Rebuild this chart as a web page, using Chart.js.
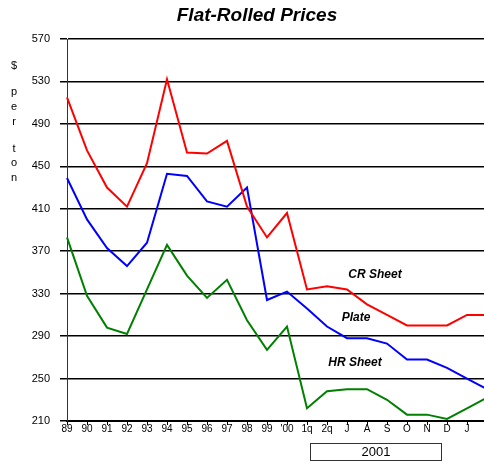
<!DOCTYPE html>
<html>
<head>
<meta charset="utf-8">
<script src="https://cdn.jsdelivr.net/npm/chart.js@4/dist/chart.umd.min.js"></script>
<style>
  html, body { margin: 0; padding: 0; background: #fff; overflow: hidden; }
  #wrap { position: relative; width: 500px; height: 462px; }
</style>
</head>
<body>
<div id="wrap"><canvas id="c" width="500" height="462"></canvas></div>
<script>
// Period labels: annual averages, then 2001 quarters and months
const periods = ['89','90','91','92','93','94','95','96','97','98','99',"'00",'1q','2q','J','A','S','O','N','D','J','F'];

// Prices, $ per ton
const crSheet = [515,465,430,412,453,532,463,462,474,412,383,406,334,337,334,320,310,300,300,300,310,310];
const plate   = [439,400,373,356,378,443,441,417,412,430,324,332,316,299,288,288,283,268,268,260,250,240];
const hrSheet = [383,328,298,292,334,376,347,326,343,305,277,299,222,238,240,240,230,216,216,212,222,232];

const yMin = 210, yMax = 570, yStep = 40;

// Series captions placed in data space: [text, x index, y value]
const captions = [
  ['CR Sheet', 15.4, 348],
  ['Plate', 14.45, 307],
  ['HR Sheet', 14.4, 265]
];

const yTitleLetters = [['$', 66], ['p', 92], ['e', 107], ['r', 122], ['t', 149], ['o', 163], ['n', 178]];

const FONT = '"Liberation Sans", Arial, sans-serif';

const overlay = {
  id: 'overlay',
  afterDraw(chart) {
    const ctx = chart.ctx;
    const xs = chart.scales.x, ys = chart.scales.y;
    ctx.save();
    ctx.fillStyle = '#000';
    ctx.textAlign = 'center';
    ctx.textBaseline = 'middle';

    // Title
    ctx.font = 'italic bold 19px ' + FONT;
    ctx.fillText('Flat-Rolled Prices', 257, 16);

    // Stacked y-axis caption
    ctx.font = '11px ' + FONT;
    yTitleLetters.forEach(([ch, y]) => ctx.fillText(ch, 14, y));

    // Series captions
    ctx.font = 'italic bold 12px ' + FONT;
    captions.forEach(([t, xi, v]) => {
      ctx.fillText(t, xs.getPixelForValue(xi), ys.getPixelForValue(v));
    });

    // Year box under the 2001 periods
    ctx.strokeStyle = '#333';
    ctx.lineWidth = 1;
    ctx.strokeRect(310.5, 443.5, 131, 17);
    ctx.font = '13px ' + FONT;
    ctx.fillText('2001', 376, 452.5);
    ctx.restore();
  }
};

new Chart(document.getElementById('c'), {
  type: 'line',
  data: {
    labels: periods,
    datasets: [
      { label: 'CR Sheet', data: crSheet, borderColor: '#ff0000' },
      { label: 'Plate', data: plate, borderColor: '#0000ff' },
      { label: 'HR Sheet', data: hrSheet, borderColor: '#008000' }
    ]
  },
  options: {
    responsive: false,
    animation: false,
    layout: { padding: { top: 39, right: 13, left: 0, bottom: 0 } },
    elements: {
      line: { borderWidth: 2, tension: 0, fill: false },
      point: { radius: 0 }
    },
    plugins: {
      legend: { display: false },
      title: { display: false },
      tooltip: { enabled: false }
    },
    scales: {
      x: {
        type: 'category',
        offset: false,
        grid: { drawOnChartArea: false, drawTicks: true, tickLength: 4, color: '#000', lineWidth: 1 },
        border: { display: true, color: '#000', width: 2 },
        ticks: { color: '#000', font: { family: FONT, size: 10 }, padding: -2, maxRotation: 0, autoSkip: false },
        afterFit(s) { s.height = 41; }
      },
      y: {
        min: yMin, max: yMax,
        grid: { color: '#000', lineWidth: 1.5, tickLength: 7 },
        border: { display: true, color: '#333', width: 1 },
        ticks: { stepSize: yStep, color: '#000', font: { family: FONT, size: 11 }, padding: 10 },
        afterFit(s) { s.width = 67; }
      }
    }
  },
  plugins: [overlay]
});
</script>
</body>
</html>
